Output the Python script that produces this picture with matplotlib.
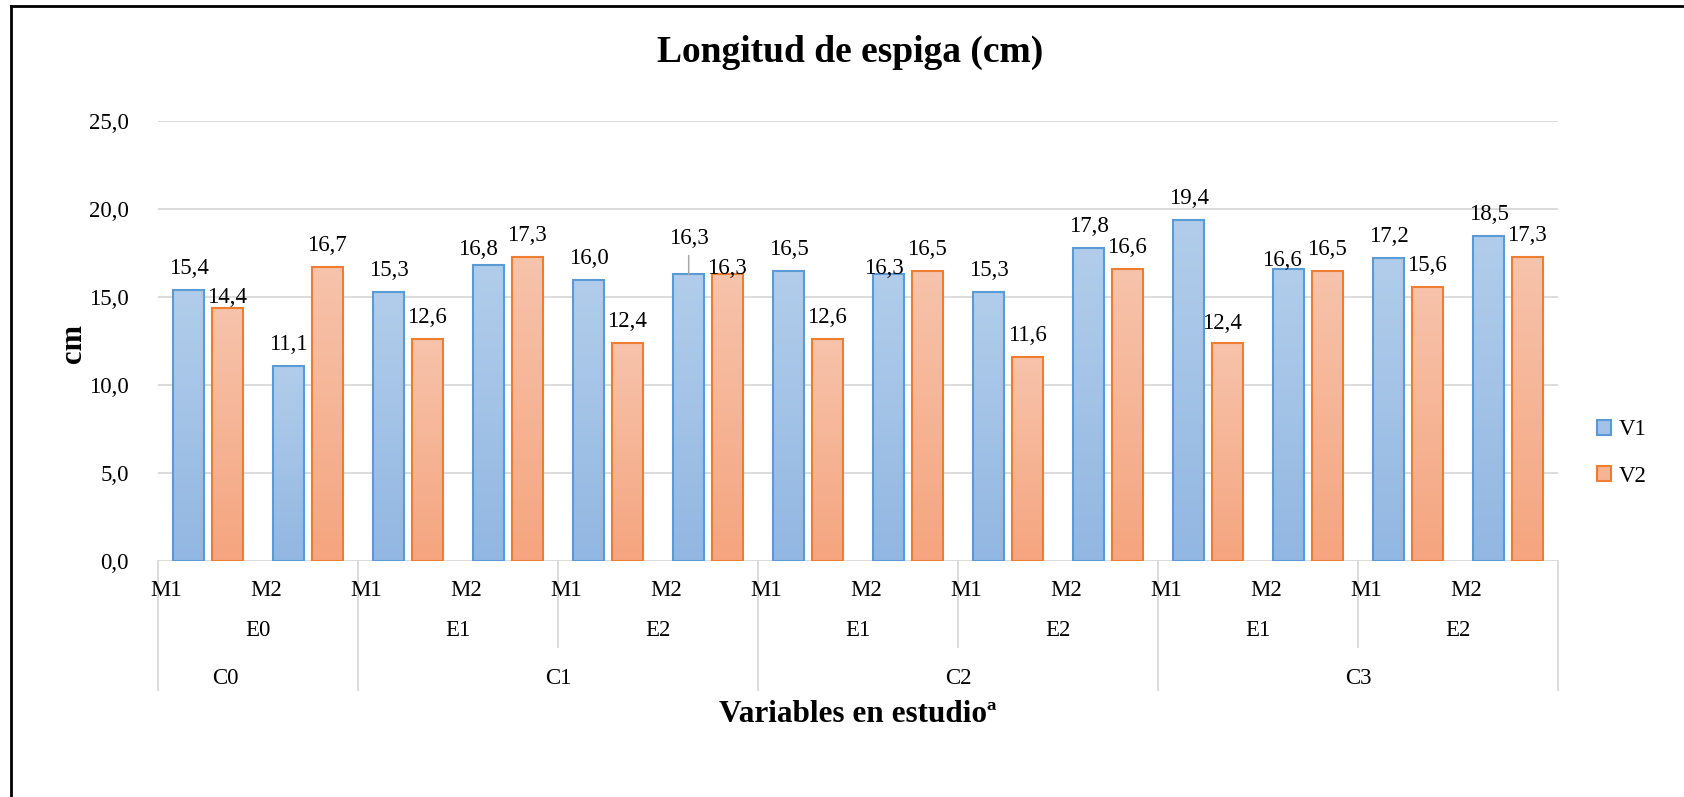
import numpy as np
import matplotlib
matplotlib.use('Agg')
import matplotlib.pyplot as plt
from matplotlib.colors import LinearSegmentedColormap
from matplotlib.patches import Patch
from matplotlib.lines import Line2D
from matplotlib.transforms import blended_transform_factory
from matplotlib.ticker import FuncFormatter

plt.rcParams['font.family'] = ['Liberation Serif', 'DejaVu Serif']

# category hierarchy: clima -> espiga -> metodo
climas = ['C0', 'C1', 'C2', 'C3']
espigas = [['E0'], ['E1', 'E2'], ['E1', 'E2'], ['E1', 'E2']]
metodos = ['M1', 'M2']
series = ['V1', 'V2']

v1 = [15.4, 11.1, 15.3, 16.8, 16.0, 16.3, 16.5, 16.3, 15.3, 17.8, 19.4, 16.6, 17.2, 18.5]
v2 = [14.4, 16.7, 12.6, 17.3, 12.4, 16.3, 12.6, 16.5, 11.6, 16.6, 12.4, 16.5, 15.6, 17.3]
y_ticks = [0, 5, 10, 15, 20, 25]

W, H = 1684, 797


def fx(px):
    return px / W


def fy(px):
    return 1 - px / H


fig = plt.figure(figsize=(W / 100, H / 100), dpi=100)
ax = fig.add_axes([fx(158), fy(560.6), fx(1400), (560.6 - 121.4) / H])

n = len(v1)
x = np.arange(n)
width = 0.31
off = 0.193
grad = np.linspace(0, 1, 128).reshape(-1, 1)


def gradient_bars(xs, vals, top, bottom, edge):
    cmap = LinearSegmentedColormap.from_list('g', [bottom, top])
    bars = ax.bar(xs, vals, width, facecolor='none', edgecolor=edge, linewidth=1.5, zorder=3)
    for b in bars:
        x0, w, h = b.get_x(), b.get_width(), b.get_height()
        im = ax.imshow(grad, extent=[x0, x0 + w, 0, h], origin='lower', cmap=cmap,
                       aspect='auto', zorder=2.5, interpolation='bilinear')
        im.set_clip_path(b)
    return bars


gradient_bars(x - off, v1, '#b2cdeb', '#92b7e2', '#5b9bd5')
gradient_bars(x + off, v2, '#f7c3ab', '#f5a57f', '#ed7d31')

ax.set_xlim(-0.5, n - 0.5)
ax.set_ylim(0, 25)
ax.set_yticks(y_ticks)
ax.yaxis.set_major_formatter(FuncFormatter(lambda v, _: f'{v:.1f}'.replace('.', ',')))
ax.tick_params(axis='y', length=0, pad=21, labelsize=16.5)
ax.set_xticks([])
ax.yaxis.grid(True, color='#d9d9d9', linewidth=1.3)
ax.set_axisbelow(True)
for s in ax.spines.values():
    s.set_visible(False)

# data labels; a few are shifted (pixels) where they would collide
nudge = {('V1', 3): (-11, -6), ('V1', 5): (0, 14), ('V1', 7): (-5, -16),
         ('V1', 11): (-7, -13), ('V2', 0): (0, -11), ('V2', 5): (0, -16),
         ('V2', 10): (-5, -2)}
for name, vals, sign in (('V1', v1, -1), ('V2', v2, 1)):
    for i, v in enumerate(vals):
        dx, dy = nudge.get((name, i), (0, 0))
        kw = {}
        if name == 'V1' and i == 5:
            kw['arrowprops'] = dict(arrowstyle='-', color='#a6a6a6', lw=1.1, shrinkA=2.5, shrinkB=0)
        ax.annotate(f'{v:.1f}'.replace('.', ','), (i + sign * off, v),
                    xytext=(dx * 0.72, (16 + dy) * 0.72), textcoords='offset points',
                    ha='center', va='baseline', fontsize=16.5, zorder=5, **kw)

# multi-level category axis
trans = blended_transform_factory(ax.transData, fig.transFigure)
for i in range(n):
    ax.text(i - 0.42, fy(590), metodos[i % 2], transform=trans, ha='center', va='center', fontsize=16.5)

c_nudge = {'C0': -0.33}
k = 0
c_bounds = [-0.5]
e_bounds = []
for c, es in zip(climas, espigas):
    start = k
    for e in es:
        ax.text(2 * k + 0.5, fy(630), e, transform=trans, ha='center', va='center', fontsize=16.5)
        k += 1
        e_bounds.append(2 * k - 0.5)
    c_bounds.append(2 * k - 0.5)
    mid = (2 * start + 2 * k - 1) / 2 + c_nudge.get(c, 0)
    ax.text(mid, fy(678), c, transform=trans, ha='center', va='center', fontsize=16.5)

grid_kw = dict(color='#d9d9d9', linewidth=1.3, transform=trans, clip_on=False)
for b in sorted(set(c_bounds + e_bounds)):
    bottom = 690 if b in c_bounds else 647
    ax.plot([b, b], [fy(560.6), fy(bottom)], **grid_kw)

fig.text(fx(850), fy(52), 'Longitud de espiga (cm)', ha='center', va='center',
         fontsize=27, fontweight='bold')
fig.text(fx(73), fy(344), 'cm', ha='center', va='center', rotation=90,
         fontsize=22, fontweight='bold')
fig.text(fx(858), fy(715), 'Variables en estudioª', ha='center', va='center',
         fontsize=22.5, fontweight='bold')

handles = [Patch(facecolor='#a3c2e7', edgecolor='#5b9bd5', linewidth=1.5),
           Patch(facecolor='#f6b495', edgecolor='#ed7d31', linewidth=1.5)]
fig.legend(handles, series, loc='center left', bbox_to_anchor=(fx(1597), fy(453)),
           frameon=False, fontsize=16.5, handlelength=0.6, handleheight=0.6,
           handletextpad=0.35, borderpad=0, borderaxespad=0, labelspacing=1.1)

# outer frame (left and top edges)
fig.add_artist(Line2D([fx(11), fx(11)], [0, fy(6)], color='black', lw=2, transform=fig.transFigure))
fig.add_artist(Line2D([fx(11), 1], [fy(6), fy(6)], color='black', lw=2, transform=fig.transFigure))

fig.savefig('out.png', dpi=100)
